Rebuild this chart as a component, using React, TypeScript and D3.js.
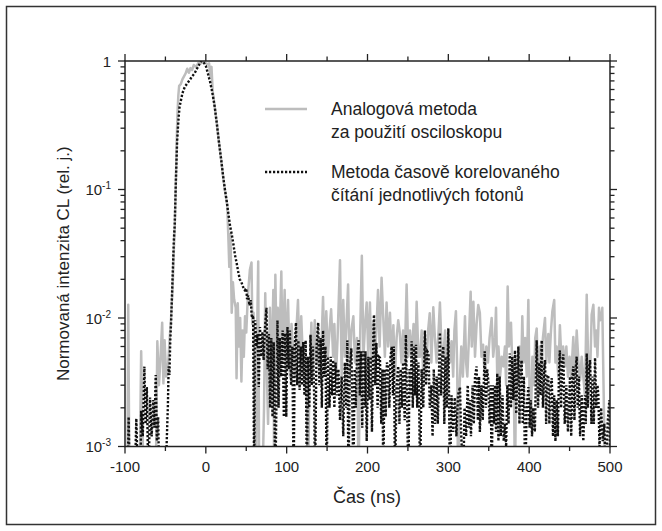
import * as React from 'react';
import * as d3 from 'd3';

// axis ticks
const xMajorTicks = [-100, 0, 100, 200, 300, 400, 500];
const xMinorTicks = [-50, 50, 150, 250, 350, 450];
const yLabelTicks = [
  { value: 1, base: '1', exp: '' },
  { value: 1e-1, base: '10', exp: '-1' },
  { value: 1e-2, base: '10', exp: '-2' },
  { value: 1e-3, base: '10', exp: '-3' },
];

const seriesNames = [
  ['Analogová metoda', 'za použití osciloskopu'],
  ['Metoda časově korelovaného', 'čítání jednotlivých fotonů'],
];

// [time in ns, intensity in units of 10^-3]; 0.5 = below the axis floor
const analogPoints: [number, number][] = [
  [-100, 0.5], [-97, 0.5], [-96, 12.7], [-94.5, 0.5], [-82, 0.5], [-80, 5.5], [-78.5, 1.5], [-77, 0.5],
  [-62, 0.5], [-60, 6.6], [-58, 3], [-56, 5], [-54, 9.2], [-52.5, 3.1], [-51, 6.7], [-49, 3.5], [-47, 4],
  [-45, 6.5], [-43, 10], [-41, 18], [-39.5, 35], [-38.5, 50], [-37, 120], [-36, 240], [-35, 400], [-34, 540],
  [-33, 640], [-31, 660], [-29, 720], [-27, 760], [-25, 800], [-23, 870], [-21, 810], [-19, 880], [-17, 850],
  [-15, 930], [-12, 900], [-9, 970], [-6, 960], [-3, 1000], [0, 960], [2.5, 940], [4, 960], [5.5, 760],
  [7, 900], [8.5, 580], [11, 440], [13.5, 330], [16, 240], [19, 170], [21.5, 125], [24, 95], [26.5, 75],
  [28, 40], [29, 25], [30.5, 45], [32, 11], [33.5, 19], [35, 14], [37, 12], [38, 3.4], [39.5, 13], [41, 6],
  [42.5, 10], [44, 3.2], [45.5, 8], [47, 5], [48.5, 10.3], [50, 7.7], [52, 15], [54.5, 23.7], [56.5, 27],
  [57.5, 9], [59, 11], [60.5, 3], [62, 0.5], [63.5, 8], [64.8, 27.5], [66, 0.5], [70, 0.5], [72, 2],
  [73.5, 15.6], [75, 5], [77, 1.5], [79.3, 12], [81, 3], [83.5, 16.5], [84.5, 0.5], [86, 21.7], [87.5, 6],
  [89, 12], [91, 6], [93.4, 23], [95, 4.5], [97.5, 16.5], [99, 5], [101.7, 13.8], [104, 3.5], [106, 9],
  [108, 5.5], [110, 3.5], [112, 8], [114, 13.8], [116, 4.5], [118, 10.3], [120, 5], [122, 3], [124, 5],
  [126.5, 0.5], [128, 3], [130.6, 9.2], [132, 3.5], [134.8, 9.6], [137, 4.5], [139, 7], [141, 3.5], [143, 6],
  [145, 14.6], [147, 4.5], [149, 11.3], [151, 5], [153, 8], [155, 11.7], [157.5, 5], [159, 9], [161, 3.5],
  [163, 7], [166, 28.2], [168, 3.5], [170, 13.8], [172, 5], [174, 9], [176, 18.2], [178, 3.5], [180, 8],
  [182.5, 10.3], [184.5, 4.5], [187, 7], [189, 0.5], [191, 8], [193, 30.5], [195, 5], [197, 9], [199, 13.2],
  [201, 5], [203, 13.2], [205, 4.5], [207, 9.2], [209, 5], [211, 8], [213, 16.5], [215, 6], [217.4, 20.6],
  [219.5, 10], [221.5, 5], [223.6, 13.2], [225.5, 6], [227.8, 11], [230, 4.5], [232, 8.8], [234, 3.5], [236, 7],
  [238, 9.6], [240, 7.7], [242, 4.5], [244, 8], [246, 4.5], [248.4, 18.2], [250.5, 5], [252.5, 8], [254.6, 5],
  [257, 9], [259, 4.5], [260.8, 13.4], [263, 5], [265, 5], [267, 8], [269, 3.5], [271, 7], [273, 4.5], [275, 8],
  [277, 10.9], [279, 4.5], [281.4, 12.1], [283.4, 7], [285.5, 4.5], [287.5, 7], [289.6, 13.2], [291.5, 6],
  [293.8, 5], [296, 8], [298, 3.5], [300, 7], [302, 4.5], [304, 6.6], [306, 3.5], [307.5, 8], [309.4, 11.3],
  [311, 4], [312, 0.5], [314, 3], [316, 6], [318, 3.5], [320.6, 10.3], [322, 4.5], [323.5, 3.5], [325.5, 7],
  [327.6, 16], [329, 6], [331, 13.4], [333, 5], [335, 9], [337, 12.6], [339, 11], [341, 5], [343, 6.2],
  [345, 3.5], [347, 6], [349, 4.5], [351, 7], [353.6, 10], [355.5, 5], [357.7, 7], [359, 12], [360.5, 3.5],
  [362, 6], [364, 3.5], [366, 5], [368, 4.2], [370, 6], [371.5, 3], [373.4, 17.6], [375, 6], [377.5, 9.2],
  [379, 4.5], [381, 3], [382.5, 0.5], [384, 5], [386, 3], [388, 6], [390, 3.5], [391.5, 10.3], [393, 4.5], [395, 7],
  [397, 3.5], [399, 13.8], [400.5, 2.5], [402, 1.5], [404, 5], [406, 3], [407.5, 7], [409.3, 8.3], [411, 3.5],
  [413, 6], [415, 3.5], [417, 7], [419.6, 10], [421, 4.5], [423.7, 7.5], [425, 4.5], [427, 8], [428.7, 11.3],
  [431, 13.8], [432.5, 4.5], [434, 6], [436, 3.5], [438, 8.8], [440, 4.5], [442, 6], [444.4, 4.2], [446, 6],
  [448, 3.5], [450, 5], [452, 3.5], [454.6, 7.1], [456.5, 3.5], [458.8, 8], [461, 4.5], [463, 3.3], [465, 5],
  [467, 3.5], [469, 2.5], [471.2, 15.2], [473, 4.5], [475.3, 3.4], [477.3, 10.6], [479.4, 12.7], [481.5, 6],
  [483, 8], [484.5, 5], [486.4, 12], [488, 9.6], [489.5, 10], [490.5, 12], [492, 3], [494, 0.5],
];

const tcspcPoints: [number, number][] = [
  [-100, 0.5], [-97, 0.5], [-95.5, 1.7], [-94, 0.5], [-88, 0.5], [-86, 1.65], [-84, 0.5], [-81, 0.5],
  [-80, 1.9], [-78, 1.2], [-76, 4.2], [-74.5, 1.5], [-73, 2.9], [-71, 0.5], [-69, 2.4], [-67, 1.2],
  [-65, 2.3], [-63.5, 1.4], [-62, 3.6], [-60.5, 1.1], [-59, 1.7], [-57.5, 0.5], [-50, 0.5], [-48, 1.3],
  [-47, 2.0], [-46, 4.2], [-45, 3.6], [-44, 6.7], [-43, 9.2], [-41.5, 17.6], [-40.4, 28], [-39.6, 40],
  [-38.5, 53], [-37, 120], [-35.5, 240], [-34, 340], [-32.5, 440], [-29, 560], [-26, 630], [-23, 670],
  [-20, 710], [-17, 760], [-14, 800], [-11, 870], [-8, 940], [-5.5, 1000], [-3, 980], [0, 920], [2.5, 800],
  [5, 700], [8, 570], [11, 440], [13.5, 330], [16, 240], [19, 170], [21.5, 125], [23.6, 100], [26, 80],
  [28, 64], [30, 52], [32, 45], [34, 38], [36, 31], [38, 27], [40, 23], [42, 20], [44, 19], [46, 17.5],
  [48, 16.5], [50, 17], [51, 14], [52.5, 15], [54, 12.5], [55.5, 13.8], [57, 10], [58.5, 10.5],
  [59.8, 0.5], [61, 9.6], [62.5, 6], [64, 7.5], [65.5, 2.9], [67, 8.5], [68.5, 5], [70, 7.8], [71.5, 4.7],
  [73, 8], [75, 12], [76.5, 4], [78, 7.5], [79.5, 2], [81, 7], [82.5, 1.7], [84, 6.5], [86, 0.5],
  [88.6, 9.6], [90, 2.0], [91.5, 7], [93, 3.5], [95, 8], [96.5, 1.7], [98, 7.6], [99.5, 1.7], [101, 8.5],
  [102.5, 4], [104, 8], [105.5, 3], [107, 6], [108.6, 0.5], [110, 6], [111.5, 9.2], [113, 3], [114.5, 6.7],
  [116, 2.75], [117.5, 6], [119, 3], [120.5, 6.5], [122, 2.5], [123.5, 6.7], [125, 0.5], [126.5, 5],
  [128, 2], [129.5, 7.4], [131, 3], [132.5, 6], [134, 2.5], [135, 0.5], [137, 6], [139, 9.2], [140.5, 3],
  [142, 7], [143.5, 2], [145, 8], [146.5, 3.5], [148, 6], [149.5, 0.5], [151, 5], [153, 2], [154.5, 5],
  [156, 2.5], [157.5, 4.7], [159, 2], [160.5, 4.5], [162, 2.5], [164, 4], [166, 1.6], [168, 3.5], [170, 1.2],
  [172, 4.5], [173.5, 2], [175, 6.7], [176.5, 0.5], [178, 4], [180, 5.8], [181.3, 2], [182.5, 0.5],
  [184, 4], [185.5, 2], [187, 5], [189, 6.7], [190.5, 2.5], [192, 5.5], [193.5, 1.4], [195, 5.5],
  [196.5, 2], [197.5, 5.5], [199, 1.1], [201, 5], [202.5, 2.3], [204, 5], [205.5, 1.3], [207, 6],
  [208, 10.6], [209.5, 3], [211, 6.4], [212.5, 2], [214, 5], [215.4, 4.9], [217, 1.5], [218.5, 4],
  [219.5, 0.5], [221, 4], [222.5, 1.7], [224, 4.5], [225.7, 4.2], [227, 2], [228.5, 5], [230, 6],
  [231.5, 2.5], [232.5, 6], [233.3, 2], [234, 0.5], [236, 3], [238, 4.2], [239.5, 1.5], [241, 4],
  [242.5, 2], [244, 4.5], [246, 1.6], [247.5, 7.4], [249, 2], [250.5, 0.5], [252, 4], [253.5, 2.5],
  [254.6, 6.6], [256, 2], [257.5, 6], [259, 2.5], [260, 6.2], [261.5, 2], [263, 4.5], [264, 2], [265, 0.5],
  [267, 4], [269, 2], [271, 8], [272.5, 3], [274, 5.5], [275.5, 5.3], [277, 2], [279, 3], [280.5, 1.2],
  [282, 4], [283.5, 1.5], [285.5, 3.5], [287, 1.5], [289.6, 7.7], [291, 2.5], [292.5, 5], [293.8, 6],
  [295, 1.5], [296.5, 5], [298, 2], [300, 8.3], [301, 2], [302, 0.5], [304, 2.5], [306, 1.3], [308, 2.4],
  [310, 1.2], [312, 2.5], [314.4, 2.9], [316, 1.2], [318.5, 0.5], [320, 2], [322, 1.2], [324, 3],
  [325.5, 1.4], [326.8, 2.3], [328, 1.2], [330, 3], [331.5, 1.5], [333, 3.5], [335, 4.2], [336.5, 1.6],
  [338, 3.5], [339, 1.3], [341, 3], [342.5, 1.6], [345, 5.5], [346.5, 2], [348, 4], [349.4, 3.3],
  [351, 1.5], [352.5, 3], [353.6, 0.5], [355, 3], [356.5, 1.5], [357.7, 3], [359, 1.3], [360.5, 3.7],
  [362, 1.1], [363.5, 3.5], [365, 1.2], [367, 2.5], [368.5, 1.1], [370, 1.5], [371.5, 1.0], [373, 3],
  [374.5, 1.5], [376, 5.3], [377.5, 2], [379, 5], [380.5, 2.3], [382.5, 5.6], [384, 1.8], [386.6, 6],
  [388, 1.5], [389.5, 4], [390.7, 4.7], [392, 1.5], [393.5, 3.5], [395, 0.5], [397, 2], [399, 2.9],
  [400.5, 1.4], [402, 2.3], [403.5, 1.2], [405, 2], [407, 1.3], [409.3, 6.7], [411, 2], [412.5, 4.5],
  [414, 2.5], [415.5, 6.7], [417, 2], [418.5, 4], [419.6, 4.7], [421, 1.5], [422.5, 3.5], [423.7, 3.6],
  [425, 1.5], [426.5, 3], [428, 3.4], [429.5, 1.2], [431, 2.5], [432.5, 1.1], [434, 2.3], [435.5, 1.2],
  [437, 4], [438, 5.6], [439.5, 2], [441, 4.5], [442.3, 5.2], [444, 1.5], [446, 3], [448, 1.3],
  [450.5, 3.5], [452, 1.2], [453.5, 3.5], [454.6, 4.2], [456, 1.6], [457.5, 4], [458.8, 5], [460, 2],
  [461.5, 3.5], [463, 1.2], [465, 2.5], [467, 1.1], [469, 2.5], [470, 1.5], [471.2, 5.3], [472.5, 2],
  [474, 4], [475.3, 4.7], [477, 1.5], [478.5, 3.5], [480, 1.5], [481.5, 4.9], [483, 2], [484.5, 3],
  [485.6, 2.5], [487, 1.0], [489, 2], [491, 1.1], [493, 1.5], [495, 0.5], [497, 1.5], [499.2, 2.3],
  [500, 1.0],
];

const FONT = '"Liberation Sans", Arial, Helvetica, sans-serif';
const AXIS = '#222';
const GREY = '#bdbdbd';

export default function App() {
  const plot = { left: 125, right: 610, top: 61, bottom: 446.5 };

  const x = d3.scaleLinear().domain([-100, 500]).range([plot.left, plot.right]);
  const y = d3.scaleLog().domain([1e-3, 1]).range([plot.bottom, plot.top]);

  const line = d3
    .line<[number, number]>()
    .x(d => x(d[0]))
    .y(d => y(d[1] / 1000));

  const yTicks = y.ticks();
  const isDecade = (v: number) => Math.abs(Math.log10(v) - Math.round(Math.log10(v))) < 1e-6;

  return (
    <svg
      width={662}
      height={531}
      style={{ position: 'absolute', left: 0, top: 0, background: '#fff' }}
      fontFamily={FONT}
    >
      <rect x={6.5} y={6.5} width={649} height={518} fill="none" stroke="#333" strokeWidth={1.5} />

      <defs>
        <clipPath id="plot-clip">
          <rect x={plot.left} y={plot.top} width={plot.right - plot.left} height={plot.bottom - plot.top} />
        </clipPath>
      </defs>

      {/* data */}
      <g clipPath="url(#plot-clip)">
        <path d={line(analogPoints) || ''} fill="none" stroke={GREY} strokeWidth={2.5} strokeLinejoin="round" />
        <path
          d={line(tcspcPoints) || ''}
          fill="none"
          stroke="#111"
          strokeWidth={2.4}
          strokeDasharray="2.2 1.8"
        />
      </g>

      {/* frame of the plot */}
      <rect
        x={plot.left}
        y={plot.top}
        width={plot.right - plot.left}
        height={plot.bottom - plot.top}
        fill="none"
        stroke={AXIS}
        strokeWidth={1.5}
      />

      {/* x ticks, bottom and top, pointing out */}
      {xMajorTicks.map(t => (
        <g key={'xM' + t}>
          <line x1={x(t)} x2={x(t)} y1={plot.bottom} y2={plot.bottom + 7} stroke={AXIS} strokeWidth={1.3} />
          <line x1={x(t)} x2={x(t)} y1={plot.top} y2={plot.top - 7} stroke={AXIS} strokeWidth={1.3} />
          <text x={x(t)} y={472} fontSize={15} textAnchor="middle" fill="#222">
            {t}
          </text>
        </g>
      ))}
      {xMinorTicks.map(t => (
        <g key={'xm' + t}>
          <line x1={x(t)} x2={x(t)} y1={plot.bottom} y2={plot.bottom + 4.5} stroke={AXIS} strokeWidth={1.3} />
          <line x1={x(t)} x2={x(t)} y1={plot.top} y2={plot.top - 4.5} stroke={AXIS} strokeWidth={1.3} />
        </g>
      ))}

      {/* y ticks, left and right */}
      {yTicks.map(v => {
        const len = isDecade(v) ? 7 : 4.5;
        return (
          <g key={'y' + v}>
            <line x1={plot.left} x2={plot.left - len} y1={y(v)} y2={y(v)} stroke={AXIS} strokeWidth={1.3} />
            <line x1={plot.right} x2={plot.right + len} y1={y(v)} y2={y(v)} stroke={AXIS} strokeWidth={1.3} />
          </g>
        );
      })}
      {yLabelTicks.map(t => (
        <text key={'yl' + t.value} x={111} y={y(t.value) + 5.5} fontSize={15} textAnchor="end" fill="#222">
          {t.base}
          {t.exp && (
            <tspan fontSize={10} dy={-6}>
              {t.exp}
            </tspan>
          )}
        </text>
      ))}

      {/* axis titles */}
      <text x={367} y={503} fontSize={18} textAnchor="middle" fill="#222">
        Čas (ns)
      </text>
      <text
        transform={`translate(69,${(plot.top + plot.bottom) / 2 + 10}) rotate(-90)`}
        fontSize={17}
        textAnchor="middle"
        fill="#222"
      >
        Normovaná intenzita CL (rel. j.)
      </text>

      {/* legend */}
      <line x1={265} x2={307} y1={109} y2={109} stroke={GREY} strokeWidth={2.5} />
      <text x={331} y={115} fontSize={17.5} fill="#222">
        <tspan x={331}>{seriesNames[0][0]}</tspan>
        <tspan x={331} dy={23}>
          {seriesNames[0][1]}
        </tspan>
      </text>
      <line x1={265} x2={307} y1={172} y2={172} stroke="#111" strokeWidth={2.4} strokeDasharray="2.2 1.8" />
      <text x={331} y={178} fontSize={17.5} fill="#222">
        <tspan x={331}>{seriesNames[1][0]}</tspan>
        <tspan x={331} dy={23}>
          {seriesNames[1][1]}
        </tspan>
      </text>
    </svg>
  );
}
